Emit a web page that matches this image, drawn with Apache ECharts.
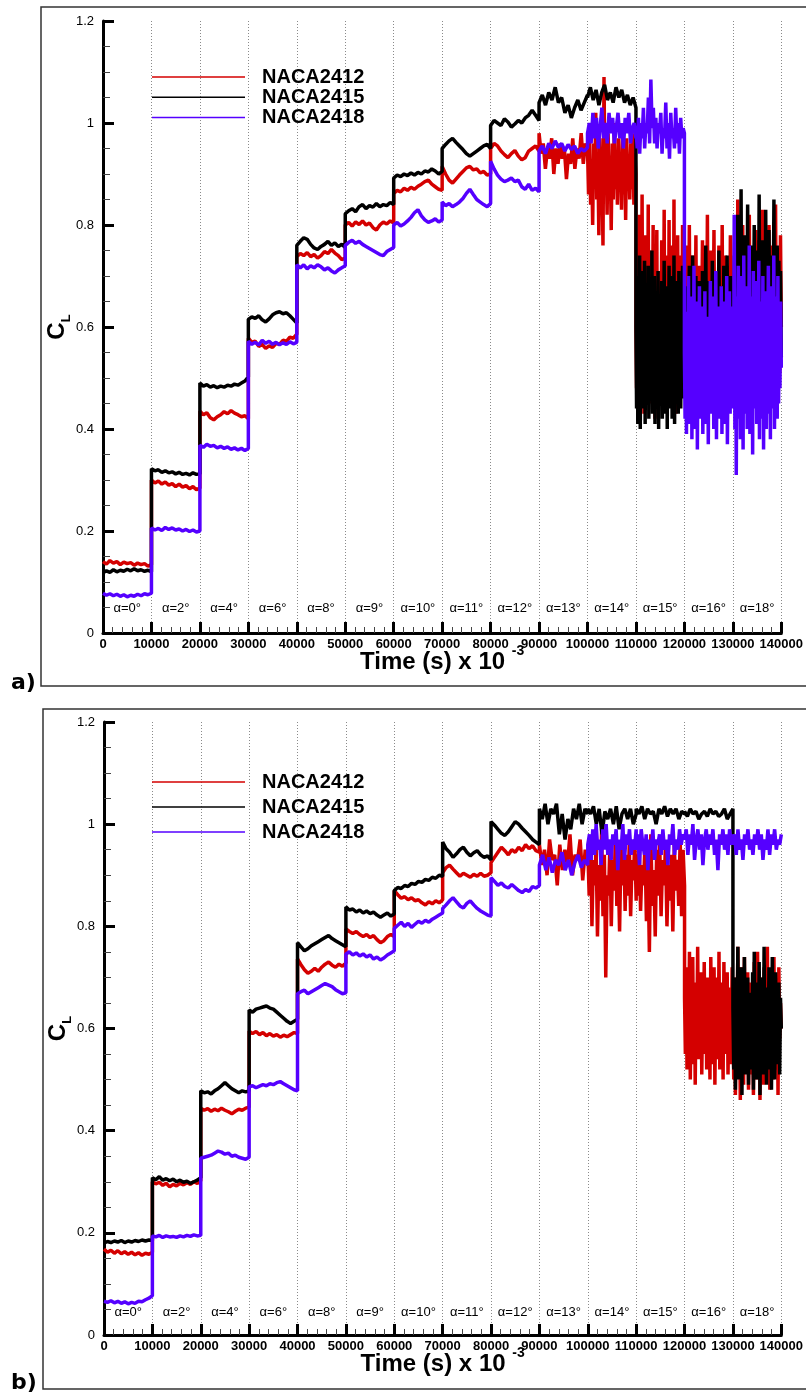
<!DOCTYPE html>
<html>
<head>
<meta charset="utf-8">
<script src="https://cdn.jsdelivr.net/npm/echarts@6/dist/echarts.min.js"></script>
<style>
html,body{margin:0;padding:0;background:#fff;}
#chart{width:806px;height:1397px;}
</style>
</head>
<body>
<div id="chart"></div>
<script>
// ---------------- DATA ----------------
const seriesNames = ['NACA2412', 'NACA2415', 'NACA2418'];
const alphaLabels = ['α=0°','α=2°','α=4°','α=6°','α=8°','α=9°','α=10°','α=11°','α=12°','α=13°','α=14°','α=15°','α=16°','α=18°'];
const segmentLength = 10000; // each angle held for 10000 time units
const xTickMax = 140000;

// Panel a) — one inner array per angle segment
const redA = [
  [0.140,0.135,0.142,0.137,0.140,0.134,0.139,0.136,0.138,0.133,0.137,0.134,0.136,0.131,0.134],
  [0.300,0.294,0.298,0.292,0.296,0.290,0.293,0.287,0.292,0.286,0.289,0.283,0.287,0.281,0.284],
  [0.435,0.428,0.432,0.422,0.418,0.424,0.428,0.434,0.430,0.436,0.431,0.428,0.424,0.426,0.420],
  [0.578,0.570,0.572,0.562,0.566,0.558,0.563,0.560,0.568,0.566,0.574,0.572,0.580,0.578,0.586],
  [0.738,0.744,0.740,0.746,0.738,0.742,0.735,0.740,0.748,0.744,0.752,0.745,0.740,0.732,0.735],
  [0.800,0.805,0.798,0.806,0.801,0.808,0.800,0.804,0.795,0.790,0.800,0.806,0.802,0.808,0.804],
  [0.862,0.868,0.865,0.872,0.868,0.874,0.870,0.876,0.880,0.885,0.888,0.880,0.875,0.870,0.868],
  [0.915,0.900,0.888,0.882,0.890,0.898,0.905,0.912,0.915,0.908,0.910,0.902,0.905,0.898,0.900],
  [0.950,0.960,0.955,0.945,0.938,0.932,0.940,0.946,0.935,0.928,0.932,0.945,0.950,0.955,0.945],
  [0.98,0.94,0.96,0.91,0.95,0.93,0.97,0.90,0.95,0.92,0.96,0.93,0.95,0.89,0.94,0.92,0.97,0.91,0.95,0.93,0.98,0.92,0.96,0.94],
  [0.95,0.86,0.98,0.84,0.93,0.80,0.96,0.88,1.02,0.85,0.94,0.78,0.97,0.87,0.92,0.76,1.09,0.86,0.95,0.82,0.98,0.88,0.93,0.79,0.96,0.85,1.00,0.87,0.94,0.84,0.97,0.88,0.92,0.83,0.99,0.86,0.95,0.81,0.97,0.89,0.93,0.85,0.96,0.87,0.98,0.84,0.94,0.90],
  [0.60,0.48,0.74,0.44,0.70,0.55,0.82,0.47,0.66,0.58,0.86,0.52,0.72,0.43,0.68,0.61,0.78,0.50,0.65,0.56,0.84,0.49,0.70,0.57,0.75,0.45,0.64,0.59,0.80,0.51,0.69,0.42,0.73,0.58,0.79,0.47,0.67,0.55,0.71,0.46,
   0.63,0.53,0.77,0.48,0.69,0.60,0.83,0.50,0.66,0.44,0.74,0.57,0.70,0.52,0.81,0.46,0.65,0.58,0.76,0.49,0.68,0.55,0.85,0.47,0.72,0.43,0.67,0.59,0.78,0.51,0.70,0.54,0.74,0.48,0.66,0.56,0.80,0.50,0.69,0.62],
  [0.64,0.52,0.76,0.48,0.70,0.56,0.80,0.50,0.68,0.58,0.74,0.46,0.66,0.55,0.78,0.51,0.69,0.57,0.72,0.49,0.65,0.60,0.77,0.53,0.67,0.47,0.73,0.56,0.82,0.50,
   0.62,0.54,0.75,0.48,0.70,0.59,0.79,0.52,0.66,0.45,0.71,0.57,0.76,0.50,0.68,0.55,0.80,0.49,0.64,0.58,0.74,0.51,0.69,0.47,0.72,0.56,0.78,0.53,0.66,0.60],
  [0.66,0.52,0.78,0.50,0.70,0.58,0.85,0.48,0.68,0.56,0.74,0.45,0.80,0.55,0.72,0.50,0.76,0.58,0.70,0.47,0.82,0.54,0.69,0.60,0.75,0.49,0.71,0.56,0.79,0.52,
   0.67,0.46,0.77,0.57,0.72,0.51,0.83,0.55,0.68,0.48,0.74,0.59,0.70,0.50,0.80,0.54,0.66,0.47,0.76,0.58,0.71,0.52,0.84,0.49,0.69,0.56,0.73,0.51,0.78,0.60]
];
const blackA = [
  [0.118,0.122,0.119,0.124,0.120,0.123,0.121,0.125,0.122,0.126,0.122,0.124,0.121,0.123,0.120],
  [0.322,0.318,0.320,0.315,0.318,0.314,0.316,0.312,0.315,0.311,0.313,0.310,0.314,0.311,0.312],
  [0.490,0.484,0.487,0.482,0.485,0.481,0.484,0.482,0.486,0.484,0.488,0.486,0.490,0.494,0.502],
  [0.615,0.620,0.617,0.622,0.614,0.610,0.616,0.624,0.628,0.630,0.626,0.628,0.622,0.615,0.608],
  [0.760,0.768,0.775,0.772,0.762,0.755,0.752,0.758,0.762,0.768,0.760,0.765,0.758,0.762,0.756],
  [0.822,0.828,0.832,0.826,0.836,0.840,0.832,0.838,0.835,0.842,0.836,0.840,0.838,0.844,0.840],
  [0.892,0.898,0.895,0.900,0.897,0.902,0.898,0.903,0.900,0.906,0.904,0.910,0.906,0.900,0.905],
  [0.950,0.958,0.965,0.970,0.962,0.955,0.948,0.940,0.935,0.940,0.945,0.950,0.955,0.958,0.950],
  [0.995,1.005,1.000,0.995,1.008,1.002,0.992,0.998,1.005,1.000,1.010,1.015,1.025,1.015,1.005],
  [1.040,1.055,1.035,1.060,1.045,1.070,1.040,1.050,1.020,1.035,1.010,1.030,1.045,1.025,1.040,1.055],
  [1.050,1.070,1.045,1.065,1.035,1.060,1.075,1.045,1.060,1.040,1.070,1.050,1.065,1.040,1.055,1.035,1.050,1.030],
  [0.60,0.44,0.70,0.41,0.66,0.50,0.74,0.40,0.60,0.52,0.71,0.44,0.65,0.47,0.73,0.41,0.63,0.55,0.68,0.45,0.72,0.42,0.61,0.50,0.69,0.46,0.75,0.43,0.64,0.52,0.70,0.41,0.62,0.49,0.67,0.44,0.71,0.40,0.66,0.48,
   0.58,0.45,0.69,0.42,0.64,0.51,0.73,0.43,0.61,0.47,0.68,0.40,0.65,0.53,0.72,0.44,0.60,0.49,0.70,0.42,0.67,0.46,0.74,0.41,0.62,0.50,0.69,0.45,0.66,0.43,0.71,0.48,0.63,0.44,0.68,0.52,0.72,0.46,0.60,0.50],
  [0.60,0.50,0.68,0.47,0.64,0.55,0.72,0.49,0.62,0.53,0.74,0.46,0.66,0.52,0.70,0.48,0.63,0.56,0.69,0.50,0.61,0.45,0.71,0.54,0.67,0.49,0.76,0.51,0.64,0.47,
   0.69,0.55,0.62,0.48,0.73,0.52,0.66,0.46,0.70,0.57,0.63,0.50,0.75,0.49,0.65,0.53,0.68,0.47,0.72,0.55,0.61,0.50,0.74,0.48,0.66,0.54,0.70,0.51,0.63,0.58],
  [0.64,0.52,0.74,0.48,0.70,0.58,0.82,0.50,0.68,0.55,0.87,0.46,0.72,0.56,0.78,0.50,0.70,0.60,0.84,0.52,0.73,0.57,0.76,0.49,0.66,0.54,0.80,0.47,0.71,0.58,
   0.75,0.51,0.86,0.55,0.69,0.48,0.77,0.60,0.72,0.52,0.83,0.49,0.68,0.57,0.79,0.53,0.74,0.46,0.70,0.59,0.85,0.51,0.67,0.55,0.76,0.50,0.73,0.58,0.71,0.54]
];
const purpleA = [
  [0.078,0.074,0.077,0.073,0.076,0.072,0.075,0.071,0.074,0.072,0.076,0.073,0.077,0.075,0.078],
  [0.206,0.202,0.205,0.201,0.207,0.203,0.206,0.202,0.204,0.200,0.203,0.199,0.202,0.198,0.200],
  [0.368,0.364,0.370,0.366,0.368,0.363,0.366,0.362,0.365,0.360,0.363,0.359,0.362,0.358,0.362],
  [0.572,0.566,0.570,0.565,0.574,0.568,0.572,0.566,0.570,0.565,0.569,0.566,0.571,0.567,0.570],
  [0.722,0.716,0.722,0.714,0.720,0.716,0.722,0.718,0.712,0.716,0.710,0.706,0.712,0.716,0.720],
  [0.760,0.766,0.770,0.764,0.768,0.762,0.758,0.754,0.750,0.746,0.742,0.740,0.748,0.752,0.756],
  [0.800,0.805,0.798,0.802,0.808,0.815,0.824,0.830,0.818,0.810,0.805,0.808,0.812,0.806,0.810],
  [0.845,0.838,0.842,0.836,0.840,0.845,0.852,0.862,0.870,0.860,0.850,0.845,0.840,0.836,0.842],
  [0.925,0.910,0.898,0.890,0.885,0.888,0.892,0.885,0.888,0.875,0.870,0.880,0.868,0.872,0.865],
  [0.945,0.955,0.940,0.960,0.950,0.965,0.952,0.960,0.945,0.958,0.948,0.955,0.940,0.950,0.945,0.952],
  [0.98,1.00,0.96,1.02,0.97,1.01,0.95,0.99,1.03,0.97,1.00,0.96,1.02,0.98,1.01,0.96,0.99,1.02,0.97,1.00,0.95,1.01,0.98,1.02,0.96,0.99,1.00,0.97],
  [0.99,0.95,1.01,0.94,1.00,0.97,1.03,0.95,1.00,0.98,1.05,0.96,1.085,0.99,1.03,0.96,1.01,0.95,1.00,0.98,1.02,0.94,0.99,0.97,1.04,0.95,1.00,0.93,1.02,0.97,0.99,0.95,1.03,0.96,1.00,0.94,1.01,0.97,0.99,0.98],
  [0.55,0.42,0.63,0.39,0.60,0.47,0.70,0.41,0.58,0.50,0.66,0.38,0.62,0.45,0.72,0.40,0.57,0.49,0.65,0.36,0.61,0.46,0.68,0.42,0.56,0.51,0.64,0.39,0.59,0.44,0.67,0.41,0.58,0.52,0.62,0.37,
   0.60,0.45,0.69,0.43,0.55,0.48,0.66,0.40,0.63,0.47,0.71,0.38,0.57,0.50,0.64,0.42,0.60,0.44,0.68,0.39,0.58,0.52,0.65,0.41,0.62,0.46,0.70,0.37,0.56,0.49,0.67,0.43,0.61,0.45,0.64,0.48],
  [0.58,0.44,0.82,0.40,0.66,0.31,0.62,0.46,0.72,0.42,0.60,0.38,0.70,0.48,0.64,0.36,0.74,0.43,0.58,0.50,0.68,0.40,0.62,0.45,0.76,0.39,0.60,0.47,0.66,0.35,0.71,0.44,0.63,0.50,0.69,0.41,
   0.57,0.46,0.73,0.38,0.65,0.49,0.61,0.42,0.70,0.36,0.64,0.47,0.67,0.40,0.59,0.51,0.72,0.43,0.62,0.38,0.68,0.46,0.60,0.44,0.74,0.40,0.63,0.49,0.66,0.42,0.70,0.45,0.61,0.48,0.65,0.52]
];

// Panel b)
const redB = [
  [0.168,0.162,0.166,0.160,0.165,0.159,0.163,0.158,0.162,0.157,0.161,0.156,0.160,0.158,0.162],
  [0.300,0.296,0.299,0.293,0.297,0.290,0.295,0.292,0.297,0.294,0.298,0.295,0.300,0.297,0.302],
  [0.444,0.440,0.443,0.438,0.442,0.439,0.444,0.440,0.437,0.433,0.438,0.442,0.440,0.444,0.446],
  [0.595,0.590,0.594,0.588,0.592,0.586,0.590,0.585,0.588,0.583,0.587,0.584,0.588,0.592,0.590],
  [0.736,0.725,0.715,0.708,0.712,0.718,0.712,0.720,0.726,0.730,0.724,0.720,0.726,0.722,0.728],
  [0.795,0.790,0.786,0.790,0.784,0.780,0.784,0.778,0.782,0.774,0.768,0.772,0.780,0.784,0.780],
  [0.870,0.862,0.855,0.858,0.852,0.856,0.850,0.852,0.846,0.842,0.848,0.844,0.850,0.846,0.852],
  [0.905,0.915,0.920,0.912,0.905,0.898,0.904,0.900,0.896,0.902,0.898,0.904,0.898,0.900,0.905],
  [0.925,0.935,0.945,0.955,0.948,0.940,0.950,0.945,0.955,0.948,0.960,0.952,0.958,0.948,0.945],
  [0.96,0.92,0.95,0.90,0.97,0.93,0.94,0.88,0.96,0.91,0.95,0.92,0.98,0.90,0.94,0.93,0.97,0.89,0.95,0.92],
  [0.95,0.86,0.97,0.80,0.93,0.88,0.96,0.78,0.92,0.85,0.99,0.82,0.94,0.70,0.90,0.86,0.96,0.80,0.93,0.87,0.98,0.84,0.92,0.79,0.95,0.88,0.97,0.83,0.94,0.86,0.96,0.82,0.93,0.89,0.97,0.85],
  [0.94,0.86,0.97,0.83,0.92,0.88,0.96,0.81,0.93,0.75,0.98,0.84,0.91,0.78,0.95,0.86,0.97,0.82,0.93,0.88,0.96,0.80,0.92,0.85,0.94,0.79,0.96,0.87,0.93,0.84,0.97,0.82,0.95,0.88],
  [0.66,0.55,0.72,0.52,0.68,0.58,0.75,0.50,0.64,0.57,0.74,0.53,0.69,0.49,0.65,0.60,0.76,0.54,0.67,0.56,0.71,0.51,0.63,0.58,0.73,0.55,0.66,0.52,0.70,0.57,
   0.62,0.50,0.74,0.56,0.68,0.53,0.72,0.49,0.65,0.59,0.70,0.54,0.75,0.52,0.64,0.57,0.69,0.50,0.73,0.55,0.66,0.58,0.71,0.51,0.63,0.56,0.68,0.53,0.72,0.60],
  [0.62,0.50,0.70,0.47,0.66,0.55,0.76,0.52,0.64,0.46,0.72,0.56,0.68,0.49,0.74,0.53,0.63,0.58,0.71,0.48,0.65,0.55,0.69,0.51,0.60,0.47,0.73,0.57,0.67,0.50,
   0.75,0.54,0.62,0.46,0.70,0.58,0.66,0.49,0.72,0.53,0.64,0.57,0.76,0.51,0.68,0.48,0.71,0.55,0.63,0.50,0.74,0.56,0.66,0.52,0.69,0.47,0.72,0.58,0.65,0.60]
];
const blackB = [
  [0.180,0.183,0.181,0.184,0.182,0.185,0.181,0.184,0.182,0.185,0.183,0.186,0.184,0.186,0.185],
  [0.308,0.304,0.310,0.303,0.306,0.302,0.305,0.300,0.303,0.299,0.301,0.297,0.300,0.303,0.308],
  [0.478,0.474,0.476,0.472,0.478,0.482,0.488,0.494,0.488,0.482,0.478,0.474,0.478,0.476,0.478],
  [0.636,0.632,0.638,0.640,0.642,0.644,0.640,0.638,0.632,0.626,0.620,0.614,0.610,0.614,0.618],
  [0.768,0.760,0.752,0.756,0.762,0.766,0.770,0.774,0.778,0.782,0.776,0.772,0.768,0.764,0.760],
  [0.838,0.832,0.834,0.828,0.832,0.826,0.830,0.825,0.828,0.822,0.818,0.822,0.826,0.820,0.824],
  [0.870,0.876,0.874,0.880,0.878,0.884,0.882,0.888,0.886,0.892,0.890,0.896,0.894,0.900,0.898],
  [0.965,0.952,0.945,0.935,0.942,0.950,0.955,0.945,0.938,0.944,0.948,0.940,0.935,0.938,0.930],
  [1.005,0.998,0.990,0.982,0.978,0.985,0.995,1.005,1.000,0.992,0.985,0.978,0.970,0.965,0.960],
  [1.03,1.01,1.04,1.00,1.03,1.02,1.04,0.98,1.02,0.97,1.01,0.99,1.03,1.01,1.04,1.00,1.03,1.02],
  [1.03,1.02,1.035,1.00,1.03,0.98,1.025,1.01,1.03,1.00,1.035,0.99,1.02,1.03,1.01,1.03,1.00,1.02],
  [1.03,1.02,1.035,1.01,1.03,1.02,1.025,1.00,1.03,1.02,1.035,1.015,1.03,1.02,1.03,1.01,1.025,1.02],
  [1.025,1.015,1.03,1.02,1.025,1.01,1.02,1.025,1.015,1.03,1.02,1.025,1.015,1.02,1.03,1.01,1.02,1.03],
  [0.64,0.52,0.70,0.48,0.66,0.56,0.76,0.50,0.62,0.58,0.72,0.47,0.68,0.54,0.74,0.51,0.65,0.57,0.70,0.49,0.63,0.55,0.67,0.52,0.71,0.48,0.75,0.56,0.64,0.50,
   0.69,0.53,0.73,0.47,0.66,0.58,0.70,0.51,0.76,0.54,0.63,0.49,0.68,0.57,0.72,0.52,0.65,0.48,0.74,0.55,0.67,0.50,0.71,0.56,0.64,0.53,0.69,0.51,0.66,0.60]
];
const purpleB = [
  [0.066,0.064,0.067,0.063,0.066,0.062,0.065,0.061,0.064,0.062,0.066,0.065,0.069,0.072,0.077],
  [0.194,0.192,0.195,0.191,0.194,0.192,0.193,0.191,0.194,0.192,0.195,0.193,0.196,0.194,0.195],
  [0.346,0.348,0.350,0.352,0.356,0.360,0.358,0.354,0.356,0.350,0.352,0.348,0.346,0.344,0.348],
  [0.486,0.488,0.484,0.487,0.490,0.488,0.492,0.490,0.494,0.496,0.492,0.488,0.484,0.480,0.478],
  [0.668,0.672,0.675,0.668,0.672,0.676,0.680,0.684,0.688,0.685,0.682,0.676,0.672,0.668,0.670],
  [0.746,0.750,0.744,0.748,0.742,0.746,0.740,0.744,0.736,0.740,0.734,0.738,0.744,0.748,0.752],
  [0.796,0.802,0.808,0.800,0.806,0.798,0.804,0.810,0.806,0.812,0.808,0.814,0.818,0.822,0.826],
  [0.835,0.842,0.850,0.856,0.848,0.840,0.836,0.845,0.850,0.842,0.835,0.830,0.826,0.822,0.820],
  [0.895,0.888,0.880,0.885,0.878,0.875,0.882,0.876,0.870,0.866,0.872,0.868,0.878,0.875,0.880],
  [0.92,0.94,0.91,0.935,0.905,0.93,0.92,0.945,0.91,0.93,0.90,0.925,0.94,0.915,0.93,0.92],
  [0.96,0.98,0.93,0.99,0.94,1.00,0.95,0.97,0.92,0.99,0.95,1.00,0.94,0.97,0.93,0.98,0.96,0.99,0.91,0.97,0.95,1.00,0.93,0.98,0.96,0.99,0.94,0.97,0.95,0.99],
  [0.95,0.98,0.92,0.99,0.96,0.94,0.98,0.91,0.97,0.95,0.99,0.93,0.97,0.96,0.98,0.94,0.99,0.95,0.97,0.92,0.98,0.96,1.00,0.94,0.97,0.95,0.99,0.96,0.98,0.97],
  [0.97,0.99,0.94,0.98,0.96,1.00,0.93,0.97,0.99,0.95,0.98,0.92,0.97,0.99,0.95,0.98,0.96,0.99,0.94,0.97,0.91,0.98,0.96,0.99,0.95,0.98,0.94,0.99,0.96,0.98],
  [0.96,0.98,0.94,0.99,0.95,0.97,0.93,0.98,0.96,0.99,0.95,0.97,0.94,0.98,0.96,0.99,0.95,0.98,0.93,0.97,0.95,0.99,0.94,0.98,0.96,0.99,0.95,0.97,0.96,0.98]
];

// ---------------- BUILD ----------------
function toPoints(segs) {
  const pts = [];
  segs.forEach((s, k) => {
    const n = s.length;
    s.forEach((v, i) => pts.push([k * segmentLength + i * segmentLength / (n - 1), v]));
  });
  return pts;
}

const FONT = "'Liberation Sans', Arial, sans-serif";
const colors = ['#d40000', '#000000', '#5500ff'];
const panels = [
  { data: [redA, blackA, purpleA], grid: { left: 103, top: 21, width: 689, height: 612 }, legendTop: 67, legendGap: 0.3, alphaY: 0.048 },
  { data: [redB, blackB, purpleB], grid: { left: 104, top: 722, width: 688, height: 613 }, legendTop: 772, legendGap: 5, alphaY: 0.045 }
];

const option = {
  animation: false,
  backgroundColor: '#fff',
  textStyle: { fontFamily: FONT },
  grid: panels.map(p => Object.assign({ containLabel: false }, p.grid)),
  legend: panels.map(p => ({
    data: seriesNames,
    orient: 'vertical',
    left: 152,
    top: p.legendTop,
    padding: 0,
    icon: 'rect',
    itemWidth: 93,
    itemHeight: 1.5,
    itemGap: p.legendGap,
    selectedMode: false,
    textStyle: { fontFamily: FONT, fontSize: 20, fontWeight: 'bold', color: '#000', lineHeight: 20, padding: [0, 0, 0, 12] }
  })),
  xAxis: panels.map((p, i) => ({
    type: 'value',
    gridIndex: i,
    min: 0,
    max: xTickMax,
    interval: segmentLength,
    name: '{t|Time (s) x 10 }{s|-3}',
    nameLocation: 'middle',
    nameMoveOverlap: false,
    nameGap: 11,
    nameTextStyle: {
      rich: {
        t: { fontFamily: FONT, fontSize: 24, fontWeight: 'bold', color: '#000', lineHeight: 30, verticalAlign: 'bottom' },
        s: { fontFamily: FONT, fontSize: 14, fontWeight: 'bold', color: '#000', lineHeight: 30, verticalAlign: 'top' }
      }
    },
    axisLine: { show: true, onZero: false, lineStyle: { color: '#000', width: 3 } },
    axisTick: { show: true, inside: true, length: 11, lineStyle: { color: '#000', width: 3 } },
    minorTick: { show: true, splitNumber: 5, length: 6, lineStyle: { color: '#444', width: 1 } },
    axisLabel: { fontFamily: FONT, fontSize: 13, fontWeight: 'bold', color: '#000', margin: 5, hideOverlap: false, formatter: v => String(v) },
    splitLine: { show: true, lineStyle: { color: '#8a8a8a', width: 1, type: [1, 2] } },
    minorSplitLine: { show: false }
  })),
  yAxis: panels.map((p, i) => ({
    type: 'value',
    gridIndex: i,
    min: 0,
    max: 1.2,
    interval: 0.2,
    name: '{c|C}{l|L}',
    nameLocation: 'middle',
    nameMoveOverlap: false,
    nameRotate: 90,
    nameGap: 30,
    nameTextStyle: {
      rich: {
        c: { fontFamily: FONT, fontSize: 24, fontWeight: 'bold', color: '#000', lineHeight: 28, verticalAlign: 'top' },
        l: { fontFamily: FONT, fontSize: 13, fontWeight: 'bold', color: '#000', lineHeight: 28, verticalAlign: 'bottom' }
      }
    },
    axisLine: { show: true, onZero: false, lineStyle: { color: '#000', width: 3 } },
    axisTick: { show: true, inside: true, length: 11, lineStyle: { color: '#000', width: 3 } },
    minorTick: { show: true, splitNumber: 4, length: 7, lineStyle: { color: '#444', width: 1 } },
    axisLabel: { fontFamily: FONT, fontSize: 13, color: '#000', margin: 9 },
    splitLine: { show: false }
  })),
  graphic: [
    { type: 'rect', shape: { x: 41, y: 7, width: 800, height: 679 }, style: { fill: 'none', stroke: '#333', lineWidth: 1.5 }, silent: true, z: -1 },
    { type: 'rect', shape: { x: 43, y: 709, width: 800, height: 680 }, style: { fill: 'none', stroke: '#333', lineWidth: 1.5 }, silent: true, z: -1 },
    { type: 'text', left: 11, top: 672, style: { text: 'a)', fontFamily: "'DejaVu Sans', sans-serif", fontSize: 22, fontWeight: 'bold', fill: '#000' } },
    { type: 'text', left: 11, top: 1372, style: { text: 'b)', fontFamily: "'DejaVu Sans', sans-serif", fontSize: 22, fontWeight: 'bold', fill: '#000' } }
  ],
  series: []
};

panels.forEach((p, pi) => {
  p.data.forEach((segs, si) => {
    option.series.push({
      name: seriesNames[si],
      type: 'line',
      xAxisIndex: pi,
      yAxisIndex: pi,
      data: toPoints(segs),
      symbol: 'none',
      color: colors[si],
      lineStyle: { color: colors[si], width: 3.5 },
      z: 2 + si
    });
  });
  option.series.push({
    type: 'scatter',
    xAxisIndex: pi,
    yAxisIndex: pi,
    symbolSize: 0,
    silent: true,
    itemStyle: { opacity: 1 },
    data: alphaLabels.map((name, k) => ({ name: name, value: [k * segmentLength + segmentLength / 2, p.alphaY] })),
    label: { show: true, position: 'inside', formatter: '{b}', fontFamily: FONT, fontSize: 13, color: '#000', opacity: 1 },
    z: 10
  });
});

const chart = echarts.init(document.getElementById('chart'), null, { renderer: 'canvas' });
chart.setOption(option);
</script>
</body>
</html>
